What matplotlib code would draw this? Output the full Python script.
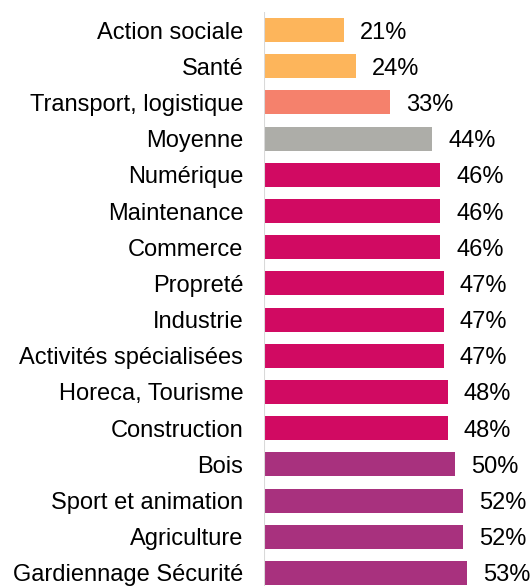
import matplotlib
matplotlib.use("Agg")
import matplotlib.pyplot as plt

plt.rcParams["font.family"] = ["Liberation Sans", "DejaVu Sans"]

secteurs = ["Action sociale", "Santé", "Transport, logistique", "Moyenne",
            "Numérique", "Maintenance", "Commerce", "Propreté", "Industrie",
            "Activités spécialisées", "Horeca, Tourisme", "Construction",
            "Bois", "Sport et animation", "Agriculture", "Gardiennage Sécurité"]
valeurs = [21, 24, 33, 44, 46, 46, 46, 47, 47, 47, 48, 48, 50, 52, 52, 53]
groupes = ["bas", "bas", "mid", "moy"] + ["haut"] * 8 + ["max"] * 4

couleurs = {"bas": "#FDB55B", "mid": "#F5816C", "moy": "#ADADA8",
            "haut": "#D10A62", "max": "#A8317E"}

fig = plt.figure(figsize=(5.32, 5.86), dpi=100)
ax = fig.add_axes([264 / 532, 0, 268 / 532, 1])

pos = list(range(len(secteurs)))
ax.barh(pos, valeurs, height=0.66, color=[couleurs[g] for g in groupes])
for p, v in zip(pos, valeurs):
    ax.annotate(f"{v}%", (v, p), xytext=(11.5, 0), textcoords="offset points",
                va="center_baseline", ha="left", fontsize=17, color="black")

ax.vlines(0, -0.5, 16, color="#d9d9d9", lw=1.5)
ax.set_xlim(0, 70)
ax.set_ylim(15.36, -0.83)
ax.set_yticks(pos)
ax.set_yticklabels(secteurs, fontsize=17, color="black", va="center_baseline")
ax.tick_params(axis="y", length=0, pad=15)
ax.set_xticks([])
for s in ax.spines.values():
    s.set_visible(False)

fig.savefig("out.png", dpi=100)
